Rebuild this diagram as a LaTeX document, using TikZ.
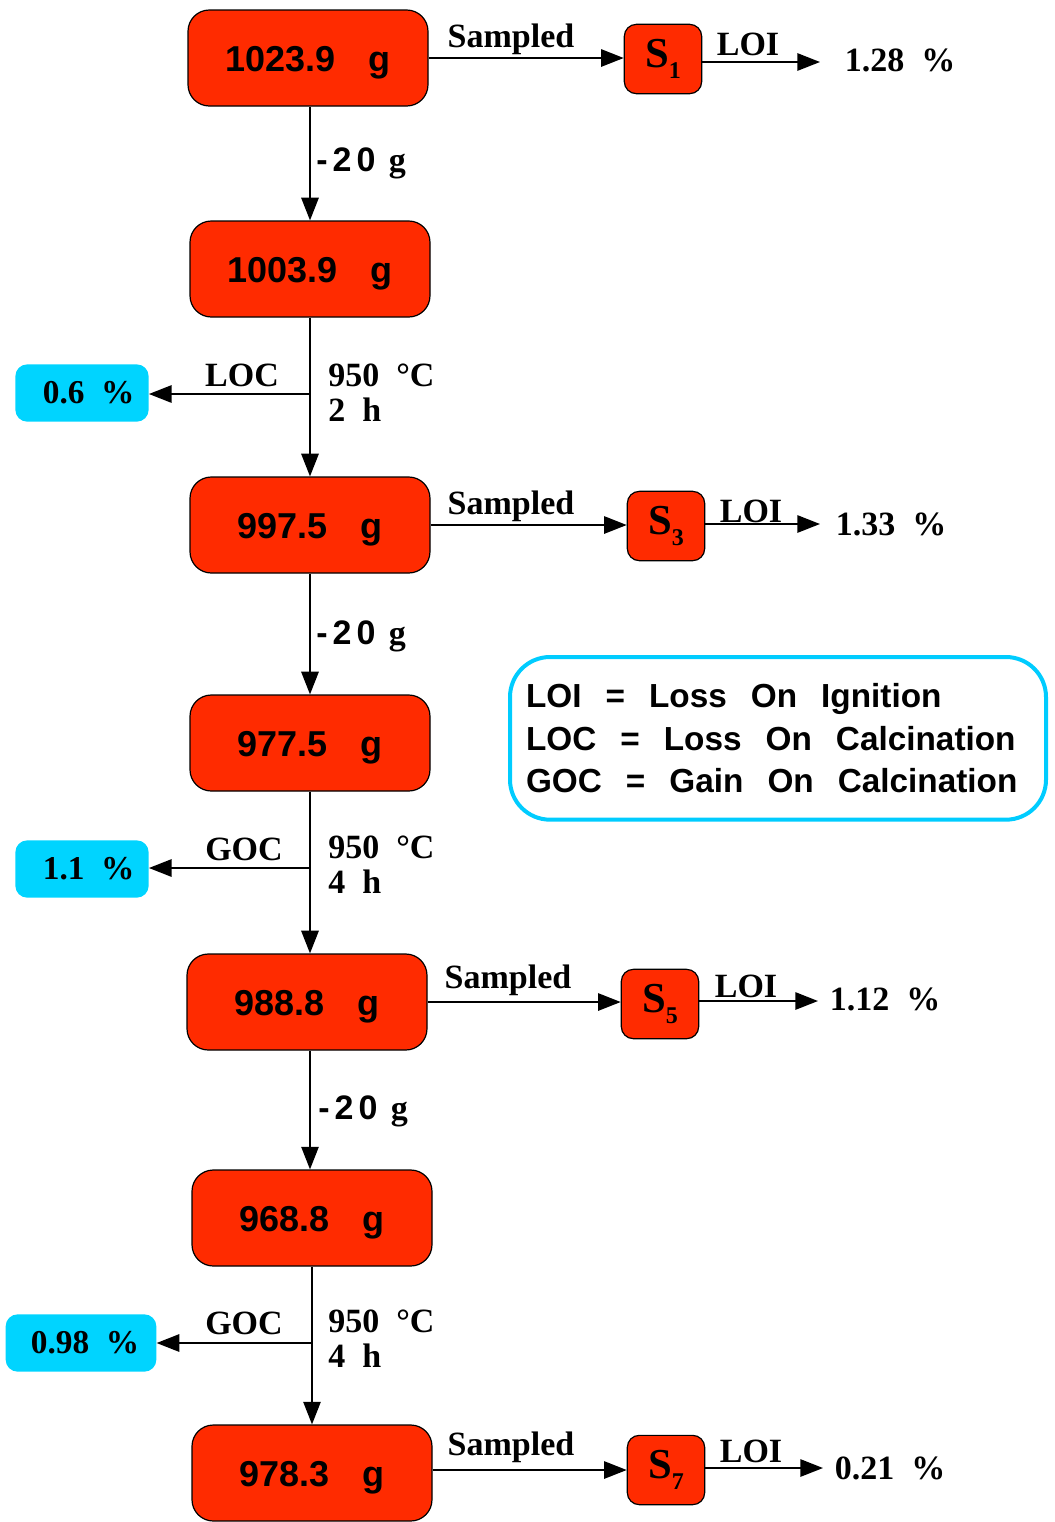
\documentclass[tikz,border=0pt]{standalone}
\usepackage{fontspec}
\setmainfont{Liberation Serif}[WordSpace=2]
\newfontfamily\sansb{Liberation Sans}
\newfontfamily\sansls{Liberation Sans}[LetterSpace=15]
\usetikzlibrary{arrows.meta,calc}

\definecolor{boxred}{RGB}{255,43,0}
\definecolor{pctblue}{RGB}{0,212,255}
\definecolor{legcyan}{RGB}{0,204,255}

% mass value with its unit, set apart
\newcommand\massval[2]{#1\hspace{25pt}#2}
% sample label with lowered index
\newcommand\smp[1]{S\raisebox{-0.25em}{\fontsize{18pt}{20pt}\selectfont #1}}
% mass removed between steps
\newcommand\minus[1]{{\sansls\bfseries -#1}\hspace{10pt}g}
% wide gap between words of the abbreviation list
\newcommand\ws{\hspace{18pt}}

\tikzset{
  mass/.style={draw=black, line width=0.9pt, fill=boxred, rounded corners=16pt,
    minimum width=180pt, minimum height=72pt, inner sep=0pt,
    text height=19.5pt, text depth=0pt,
    font=\sansb\bfseries\fontsize{27pt}{32pt}\selectfont},
  sbox/.style={draw=black, line width=0.9pt, fill=boxred, rounded corners=9pt,
    minimum width=58pt, minimum height=52pt, inner sep=0pt,
    font=\bfseries\fontsize{32pt}{36pt}\selectfont},
  pct/.style={draw=none, fill=pctblue, rounded corners=9pt,
    minimum width=100pt, minimum height=43pt, inner sep=0pt,
    font=\bfseries\fontsize{25pt}{30pt}\selectfont},
  lab/.style={inner sep=0pt, font=\bfseries\fontsize{25.5pt}{30pt}\selectfont},
  cond/.style={lab, anchor=west},
  arr/.style={line width=1.4pt, -{Triangle[length=17pt,width=13pt]}},
  legend/.style={draw=legcyan, line width=3pt, rounded corners=30pt,
    inner xsep=12pt, inner ysep=0pt, minimum height=122pt,
    text width=378pt, align=left,
    font=\sansb\bfseries\fontsize{25pt}{32pt}\selectfont},
}

\begin{document}
\begin{tikzpicture}[x=0.75pt,y=-0.75pt]
\useasboundingbox (0,0) rectangle (1055,1522);

% ---- main mass boxes ----
\node[mass] (B1) at (308,58)   {\massval{1023.9}{g}};
\node[mass] (B2) at (310,269)  {\massval{1003.9}{g}};
\node[mass] (B3) at (310,525)  {\massval{997.5}{g}};
\node[mass] (B4) at (310,743)  {\massval{977.5}{g}};
\node[mass] (B5) at (307,1002) {\massval{988.8}{g}};
\node[mass] (B6) at (312,1218) {\massval{968.8}{g}};
\node[mass] (B7) at (312,1473) {\massval{978.3}{g}};

% ---- samples taken ----
\node[sbox] (S1) at (663,59)   {\smp{1}};
\node[sbox] (S3) at (666,526)  {\smp{3}};
\node[sbox] (S5) at (660,1004) {\smp{5}};
\node[sbox] (S7) at (666,1470) {\smp{7}};

% ---- loss on ignition results ----
\node[lab] (V1) at (900,60)   {1.28 \%};
\node[lab] (V3) at (891,524)  {1.33 \%};
\node[lab] (V5) at (885,999)  {1.12 \%};
\node[lab] (V7) at (890,1468) {0.21 \%};
\coordinate (e1) at (820,62);
\coordinate (e3) at (820,524);
\coordinate (e5) at (818,1001);
\coordinate (e7) at (823,1468);

% ---- calcination results ----
\node[pct] (P1) at (82,393)   {\hspace{10pt}0.6 \%};
\node[pct] (P2) at (82,869)   {\hspace{10pt}1.1 \%};
\node[pct] (P3) at (81,1343)  [minimum width=113pt] {\hspace{6pt}0.98 \%};

% branch points on the calcination lines
\coordinate (c1) at (310,394);
\coordinate (c2) at (310,868);
\coordinate (c3) at (312,1343);

% ---- vertical flow ----
\draw[arr] (B1.south -| B2.north) -- (B2.north);
\draw[arr] (B2.south) -- (B3.north);
\draw[arr] (B3.south) -- (B4.north);
\draw[arr] (B4.south) -- (B4.south |- B5.north);
\draw[arr] (B5.south -| B4.south) -- (B6.north -| B4.south);
\draw[arr] (B6.south) -- (B7.north);

\node[lab, anchor=west] at (316,163)  {\minus{20}};
\node[lab, anchor=west] at (316,636)  {\minus{20}};
\node[lab, anchor=west] at (318,1111) {\minus{20}};

% ---- calcination branches ----
\draw[arr] (c1) -- (P1.east |- c1);
\draw[arr] (c2) -- (P2.east |- c2);
\draw[arr] (c3) -- (P3.east |- c3);

\node[lab] at (242,375)  {LOC};
\node[lab] at (244,849)  {GOC};
\node[lab] at (244,1323) {GOC};

\node[cond] at (328,375)  {950 °C};
\node[cond] at (328,410)  {2 h};
\node[cond] at (328,847)  {950 °C};
\node[cond] at (328,882)  {4 h};
\node[cond] at (328,1321) {950 °C};
\node[cond] at (328,1356) {4 h};

% ---- sampling ----
\draw[arr] (B1.east) -- (B1.east -| S1.west);
\draw[arr] (B3.east) -- (B3.east -| S3.west);
\draw[arr] (B5.east) -- (B5.east -| S5.west);
\draw[arr] (B7.east |- S7) -- (S7.west);

\node[lab] at (511,39)   {Sampled};
\node[lab] at (511,506)  {Sampled};
\node[lab] at (508,980)  {Sampled};
\node[lab] at (511,1447) {Sampled};

\draw[arr] (S1.east |- e1) -- (e1);
\draw[arr] (S3.east |- e3) -- (e3);
\draw[arr] (S5.east |- e5) -- (e5);
\draw[arr] (S7.east |- e7) -- (e7);

\node[lab] at (748,44)   {LOI};
\node[lab] at (751,511)  {LOI};
\node[lab] at (746,986)  {LOI};
\node[lab] at (751,1451) {LOI};

% ---- abbreviations ----
\node[legend, anchor=north west] (L) at (508,655)
  {LOI\ws=\ws Loss\ws On\ws Ignition\\
   LOC\ws=\ws Loss\ws On\ws Calcination\\
   GOC\ws=\ws Gain\ws On\ws Calcination};
\end{tikzpicture}
\end{document}
